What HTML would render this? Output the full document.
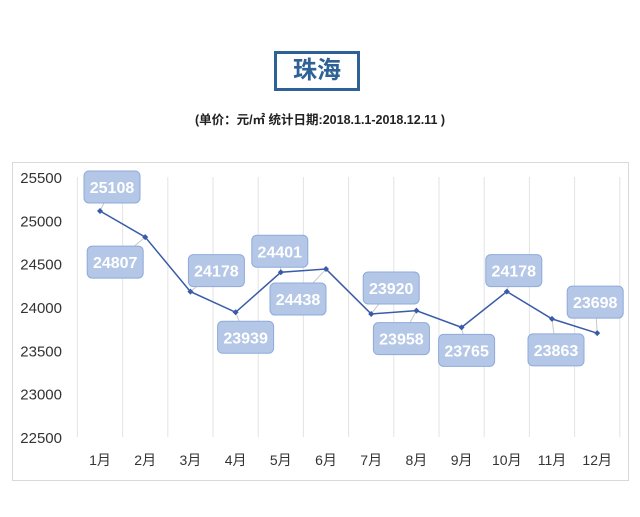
<!DOCTYPE html>
<html><head><meta charset="utf-8"><style>
body{margin:0;background:#fff;width:640px;height:517px;overflow:hidden;font-family:"Liberation Sans","Noto Sans CJK SC",sans-serif}
</style></head><body>
<div style="position:absolute;left:274px;top:51px;width:86px;height:40px;border:3px solid #2e6296;box-sizing:border-box;color:#2e6296;font:bold 24px 'Liberation Sans','Noto Sans CJK SC',sans-serif;text-align:center;line-height:34px">珠海</div>
<div style="position:absolute;left:0;width:640px;top:109px;text-align:center;font-size:12.5px;color:#222;font-weight:bold">(单价：元/㎡ 统计日期:2018.1.1-2018.12.11 )</div>
<svg width="640" height="517" style="position:absolute;left:0;top:0" id="chart"></svg>
<script>
const months=["1月","2月","3月","4月","5月","6月","7月","8月","9月","10月","11月","12月"];
const prices=[25108,24807,24178,23939,24401,24438,23920,23958,23765,24178,23863,23698];
const yTicks=[22500,23000,23500,24000,24500,25000,25500];
const labelOffsets=[[12,-24],[-30,25],[26,-21],[10,25],[-1,-21],[-28,30],[20,-26],[-15,28],[5,23],[7,-21],[4,31],[-2,-31]];
const NS="http://www.w3.org/2000/svg";
const svg=document.getElementById('chart');
function x(i){return 100+i*45.2;}
function y(v){return 437-(v-22500)/500*43.33;}
function mk(t,a,p){const e=document.createElementNS(NS,t);for(const k in a)e.setAttribute(k,a[k]);(p||svg).appendChild(e);return e;}
const frame=mk('rect',{x:12.5,y:162.5,width:616,height:318,fill:'#fff',stroke:'#d9d9d9'});


for(let i=0;i<=12;i++){const g=mk('line',{x1:77.4+i*45.2,x2:77.4+i*45.2,y1:177,y2:437,stroke:'#e3e3e3'});

}
yTicks.forEach(t=>{const e=mk('text',{x:62,y:y(t)+6,'text-anchor':'end','font-size':15,fill:'#333'});e.textContent=t;

});
months.forEach((m,i)=>{const e=mk('text',{x:x(i),y:465,'text-anchor':'middle','font-size':14,fill:'#333','font-family':'Liberation Sans,Noto Sans CJK SC,sans-serif'});e.textContent=m;

});
prices.forEach((v,i)=>{const o=labelOffsets[i];const l=mk('line',{x1:x(i),y1:y(v),x2:x(i)+o[0],y2:y(v)+o[1],stroke:'#c8c8c8'});

});
const pl=mk('polyline',{points:prices.map((v,i)=>x(i)+','+y(v)).join(' '),fill:'none',stroke:'#3a5ba8','stroke-width':1.5});


prices.forEach((v,i)=>{const cx=x(i),cy=y(v);const p=mk('polygon',{points:`${cx},${cy-3} ${cx+3},${cy} ${cx},${cy+3} ${cx-3},${cy}`,fill:'#3a5ba8'});

});
prices.forEach((v,i)=>{const o=labelOffsets[i];const cx=x(i)+o[0],cy=y(v)+o[1];
const g=mk('g',{});


mk('rect',{x:cx-28,y:cy-16,width:56,height:32,rx:5,fill:'#b4c7e7',stroke:'#8eaadb'},g);
const t=mk('text',{x:cx,y:cy+6,'text-anchor':'middle','font-size':16,'font-weight':'bold',fill:'#fff'},g);t.textContent=v;});
</script>
</body></html>
